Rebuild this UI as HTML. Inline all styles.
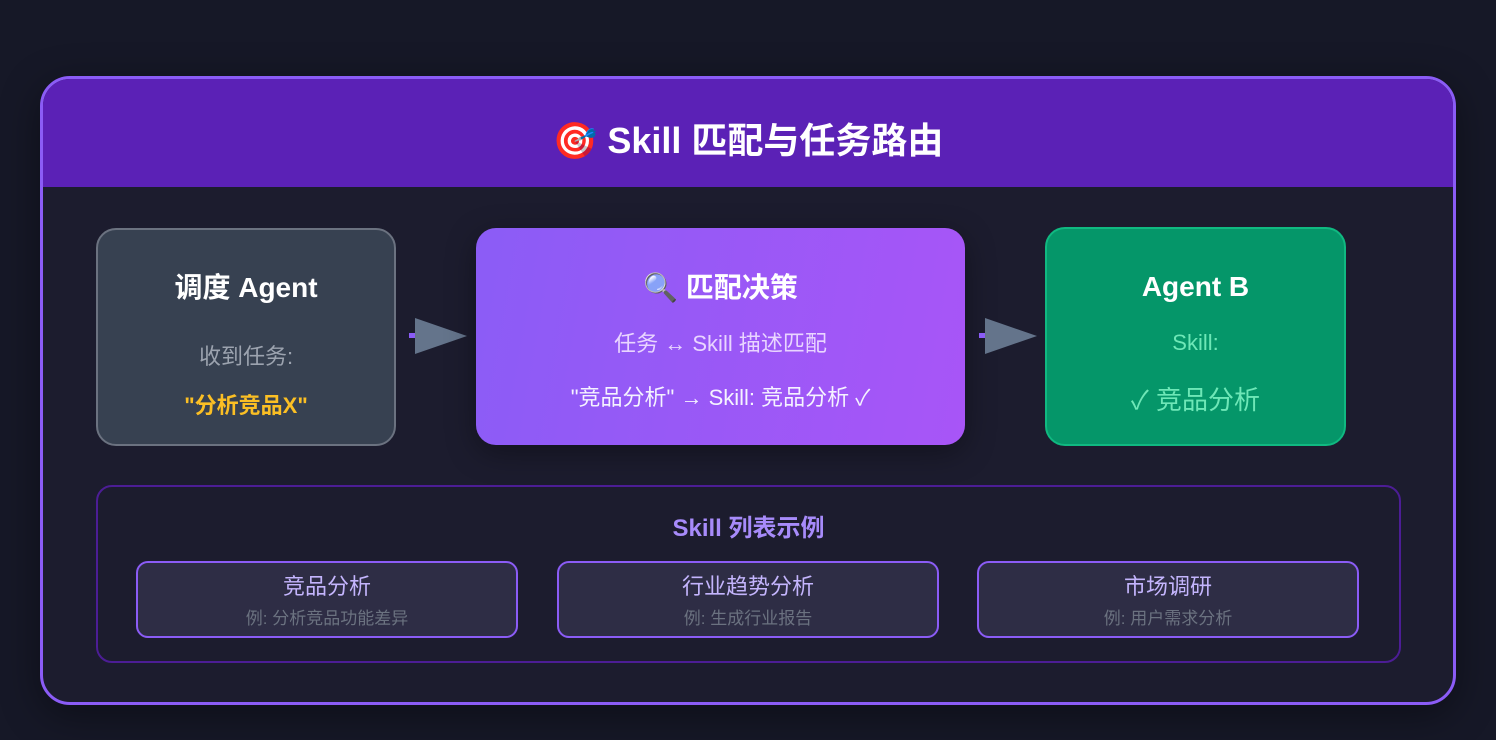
<!DOCTYPE html>
<html><head><meta charset="utf-8"><style>
*{margin:0;padding:0;box-sizing:border-box}
body{width:1496px;height:740px;background:#161827;font-family:"Liberation Sans","Noto Sans CJK SC",sans-serif;position:relative;overflow:hidden}
.abs{position:absolute}
.outer{left:40px;top:76px;width:1416px;height:629px;border:3px solid #8b5cf6;border-radius:30px;background:#1c1c2e;overflow:hidden;box-shadow:0 10px 40px rgba(0,0,0,.4)}
.hdr{left:0;top:0;width:100%;height:108px;background:#5b21b6;color:#fff;font-weight:bold;font-size:36px;text-align:center;line-height:124px}
.box{border-radius:20px;text-align:center}
.t{position:absolute;left:0;width:100%;text-align:center;white-space:nowrap}
.card{border:2px solid #8b5cf6;background:#2e2d45;border-radius:12px}
</style></head><body>
<div class="abs outer"><div class="abs hdr">🎯 Skill 匹配与任务路由</div></div>

<div class="abs box" style="left:96px;top:228px;width:300px;height:218px;background:#374151;border:2px solid #6b7280">
 <div class="t" style="top:36px;font-size:28px;font-weight:bold;color:#fff">调度 Agent</div>
 <div class="t" style="top:109px;font-size:22px;color:#9ca3af">收到任务:</div>
 <div class="t" style="top:158px;font-size:22px;color:#fbbf24;font-weight:bold">"分析竞品X"</div>
</div>

<svg class="abs" style="left:405px;top:315px" width="70" height="42"><rect x="4" y="18" width="8" height="5" fill="#8b5cf6"/><polygon points="10,3 62,21 10,39" fill="#64748b"/></svg>

<div class="abs box" style="left:476px;top:228px;width:489px;height:217px;background:linear-gradient(100deg,#8b5cf6,#a855f7);box-shadow:0 8px 30px rgba(0,0,0,.35)">
 <div class="t" style="top:38px;font-size:28px;font-weight:bold;color:#fff">🔍 匹配决策</div>
 <div class="t" style="top:98px;font-size:22px;color:#e9d5ff">任务 ↔ Skill 描述匹配</div>
 <div class="t" style="top:152px;font-size:22px;color:#f5f3ff">"竞品分析" → Skill: 竞品分析 ✓</div>
</div>

<svg class="abs" style="left:975px;top:315px" width="70" height="42"><rect x="4" y="18" width="8" height="5" fill="#8b5cf6"/><polygon points="10,3 62,21 10,39" fill="#64748b"/></svg>

<div class="abs box" style="left:1045px;top:227px;width:301px;height:219px;background:#059669;border:2px solid #10b981">
 <div class="t" style="top:42px;font-size:28px;font-weight:bold;color:#fff">Agent B</div>
 <div class="t" style="top:101px;font-size:22px;color:#6ee7b7">Skill:</div>
 <div class="t" style="top:151px;font-size:26px;color:#6ee7b7">✓ 竞品分析</div>
</div>

<div class="abs" style="left:96px;top:485px;width:1305px;height:178px;border:2px solid #4c1d95;border-radius:16px">
 <div class="t" style="top:21px;font-size:24px;font-weight:bold;color:#a78bfa">Skill 列表示例</div>
</div>

<div class="abs card" style="left:136px;top:561px;width:382px;height:77px"><div class="t" style="top:6px;font-size:22px;color:#c4b5fd">竞品分析</div><div class="t" style="top:41px;font-size:17px;color:#6b7280">例: 分析竞品功能差异</div></div>
<div class="abs card" style="left:557px;top:561px;width:382px;height:77px"><div class="t" style="top:6px;font-size:22px;color:#c4b5fd">行业趋势分析</div><div class="t" style="top:41px;font-size:17px;color:#6b7280">例: 生成行业报告</div></div>
<div class="abs card" style="left:977px;top:561px;width:382px;height:77px"><div class="t" style="top:6px;font-size:22px;color:#c4b5fd">市场调研</div><div class="t" style="top:41px;font-size:17px;color:#6b7280">例: 用户需求分析</div></div>
</body></html>
